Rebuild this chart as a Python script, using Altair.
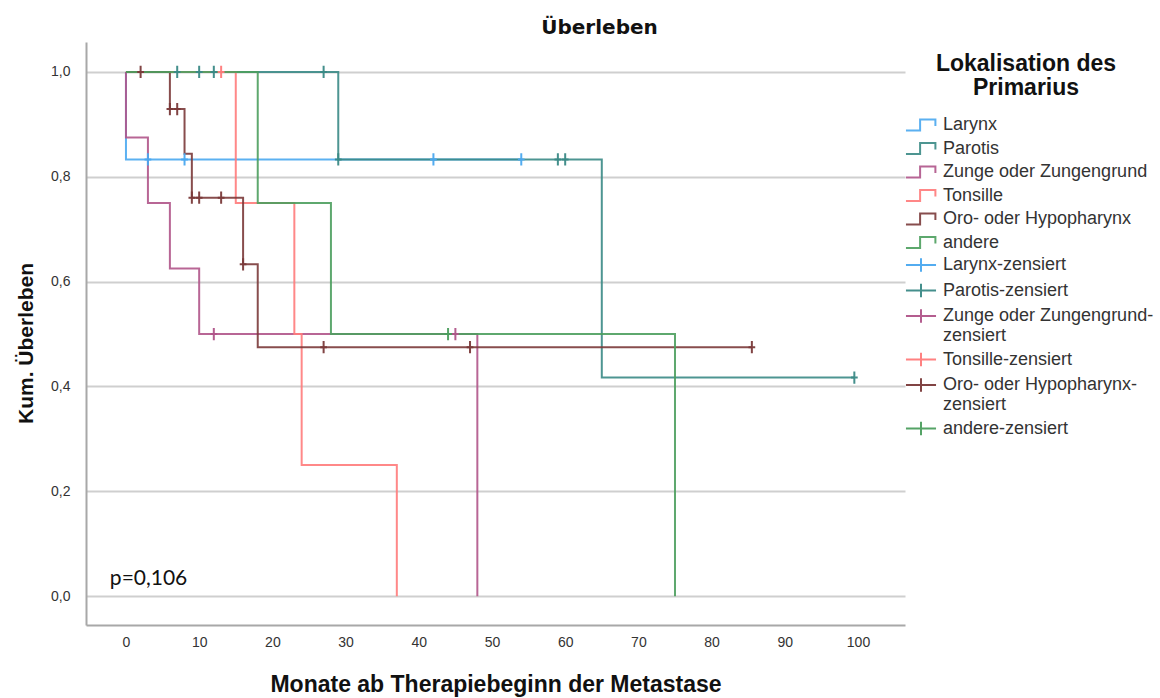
import altair as alt
import pandas as pd

# Groups (primary tumour site) and their colours
groups = ["Larynx", "Parotis", "Zunge oder Zungengrund", "Tonsille",
          "Oro- oder Hypopharynx", "andere"]
colors = ["#4aa8f0", "#3a8a86", "#b0558a", "#ff7b7b", "#7b3a3a", "#4c9f5e"]

# Kaplan-Meier steps per group: event times (months), survival after each event
larynx_times = [0]
larynx_surv = [0.833]
larynx_cens = [3, 8, 42, 54]
larynx_end = 54

parotis_times = [29, 65]
parotis_surv = [0.833, 0.417]
parotis_cens = [7, 10, 12, 27, 29, 59, 60, 99.5]
parotis_end = 99.5

zunge_times = [0, 3, 6, 10, 48]
zunge_surv = [0.875, 0.75, 0.625, 0.5, 0.0]
zunge_cens = [12, 45]
zunge_end = 48

tonsille_times = [15, 23, 24, 37]
tonsille_surv = [0.75, 0.5, 0.25, 0.0]
tonsille_cens = [13]
tonsille_end = 37

oro_times = [6, 8, 9, 16, 18]
oro_surv = [0.929, 0.844, 0.760, 0.633, 0.475]
oro_cens = [2, 6, 7, 9, 10, 13, 16, 27, 47, 85.5]
oro_end = 85.5

andere_times = [18, 28, 75]
andere_surv = [0.75, 0.5, 0.0]
andere_cens = [44]
andere_end = 75

series = [
    (larynx_times, larynx_surv, larynx_cens, larynx_end),
    (parotis_times, parotis_surv, parotis_cens, parotis_end),
    (zunge_times, zunge_surv, zunge_cens, zunge_end),
    (tonsille_times, tonsille_surv, tonsille_cens, tonsille_end),
    (oro_times, oro_surv, oro_cens, oro_end),
    (andere_times, andere_surv, andere_cens, andere_end),
]

p_text = "p=0,106"
p_pos = {"t": -2.2, "s": 0.021}

x_ticks = list(range(0, 101, 10))
y_ticks = [0.0, 0.2, 0.4, 0.6, 0.8, 1.0]

censored_labels = [g + "-zensiert" for g in groups]


def surv_at(times, surv, t):
    value = 1.0
    for ti, si in zip(times, surv):
        if ti <= t:
            value = si
    return value


step_rows, cens_rows = [], []
for g, cl, (times, surv, cens, end) in zip(groups, censored_labels, series):
    pts = [(0.0, 1.0)] + list(zip(times, surv))
    pts.append((end, surv[-1]))
    for i, (t, s) in enumerate(pts):
        step_rows.append({"Gruppe": g, "t": t, "s": s, "idx": i})
    for t in cens:
        cens_rows.append({"Zensiert": cl, "t": t, "s": surv_at(times, surv, t)})

steps = pd.DataFrame(step_rows)
censored = pd.DataFrame(cens_rows)
annot = pd.DataFrame([{"t": p_pos["t"], "s": p_pos["s"], "label": p_text}])

x_scale = alt.Scale(domain=[-5.46, 106.42], nice=False, zero=False)
y_scale = alt.Scale(domain=[-0.055, 1.057], nice=False, zero=False)

x_enc = alt.X("t:Q", scale=x_scale, title="Monate ab Therapiebeginn der Metastase",
              axis=alt.Axis(values=x_ticks, grid=False, ticks=False, labelPadding=10,
                            titlePadding=24, labelFontSize=14, titleFontSize=23,
                            titleFontWeight="bold", labelColor="#333", titleColor="#111",
                            domainColor="#a8a8a8", domainWidth=2,
                            labelFont="Liberation Sans", titleFont="Liberation Sans"))
y_enc = alt.Y("s:Q", scale=y_scale, title="Kum. Überleben",
              axis=alt.Axis(values=y_ticks, ticks=False, labelPadding=16,
                            labelExpr="replace(format(datum.value, '.1f'), '.', ',')",
                            gridColor="#cfcfcf", gridWidth=2, titlePadding=14, titleY=301,
                            labelFontSize=14, titleFontSize=21, titleFontWeight="bold",
                            labelColor="#333", titleColor="#111",
                            domainColor="#a8a8a8", domainWidth=2,
                            labelFont="Liberation Sans", titleFont="Liberation Sans"))

# legend glyphs: a small survival step and a censoring cross
step_symbol = "M-1.67,0.62H-0.1V-0.62H1.6V0.1"
plus_symbol = "M-1.67,0H1.67M0,-0.75V0.75"
cens_shape = "M0,-1V1M-0.55,0H0.55"

legend_common = dict(orient="none", legendX=819, symbolSize=324, symbolOffset=6,
                     symbolStrokeWidth=2, labelOffset=12, rowPadding=3.5, padding=0,
                     labelFont="Liberation Sans", labelFontSize=18, labelColor="#333",
                     labelLimit=300)

lines = alt.Chart(steps).mark_line(interpolate="step-after", strokeWidth=2, opacity=0.9).encode(
    x=x_enc,
    y=y_enc,
    order=alt.Order("idx:Q"),
    color=alt.Color("Gruppe:N", scale=alt.Scale(domain=groups, range=colors),
                    legend=alt.Legend(title=["Lokalisation des", "Primarius"],
                                      symbolType=step_symbol, legendY=11,
                                      titleAnchor="middle", titleAlign="center",
                                      titlePadding=15, titleFont="Liberation Sans",
                                      titleFontSize=23, titleColor="#111",
                                      titleFontWeight="bold", titleLineHeight=24,
                                      titleLimit=400, **legend_common)),
)

marks = alt.Chart(censored).mark_point(shape=cens_shape, filled=False, size=150,
                                        strokeWidth=2, opacity=0.95).encode(
    x=alt.X("t:Q", scale=x_scale),
    y=alt.Y("s:Q", scale=y_scale),
    color=alt.Color("Zensiert:N", scale=alt.Scale(domain=censored_labels, range=colors),
                    legend=alt.Legend(
                        title=None, symbolType=plus_symbol, legendY=213,
                        labelExpr=("datum.label == 'Zunge oder Zungengrund-zensiert' ? "
                                   "['Zunge oder Zungengrund-', 'zensiert'] : "
                                   "datum.label == 'Oro- oder Hypopharynx-zensiert' ? "
                                   "['Oro- oder Hypopharynx-', 'zensiert'] : datum.label"),
                        **legend_common)),
)

ptext = alt.Chart(annot).mark_text(align="left", baseline="alphabetic", font="Lato",
                                   fontSize=21, color="#111").encode(
    x=alt.X("t:Q", scale=x_scale),
    y=alt.Y("s:Q", scale=y_scale),
    text="label:N",
)

chart = alt.layer(lines, marks, ptext).resolve_scale(color="independent").properties(
    width=819,
    height=583,
    autosize=alt.AutoSizeParams(type="none"),
    padding={"left": 86, "top": 42, "right": 255, "bottom": 73},
    title=alt.TitleParams("Überleben", font="DejaVu Sans", fontSize=20, fontWeight="bold",
                          anchor="middle", dx=104, offset=4, color="#111"),
).configure(background="white").configure_view(strokeWidth=0)

chart.save("out.html", embed_options={"renderer": "svg", "actions": False})
